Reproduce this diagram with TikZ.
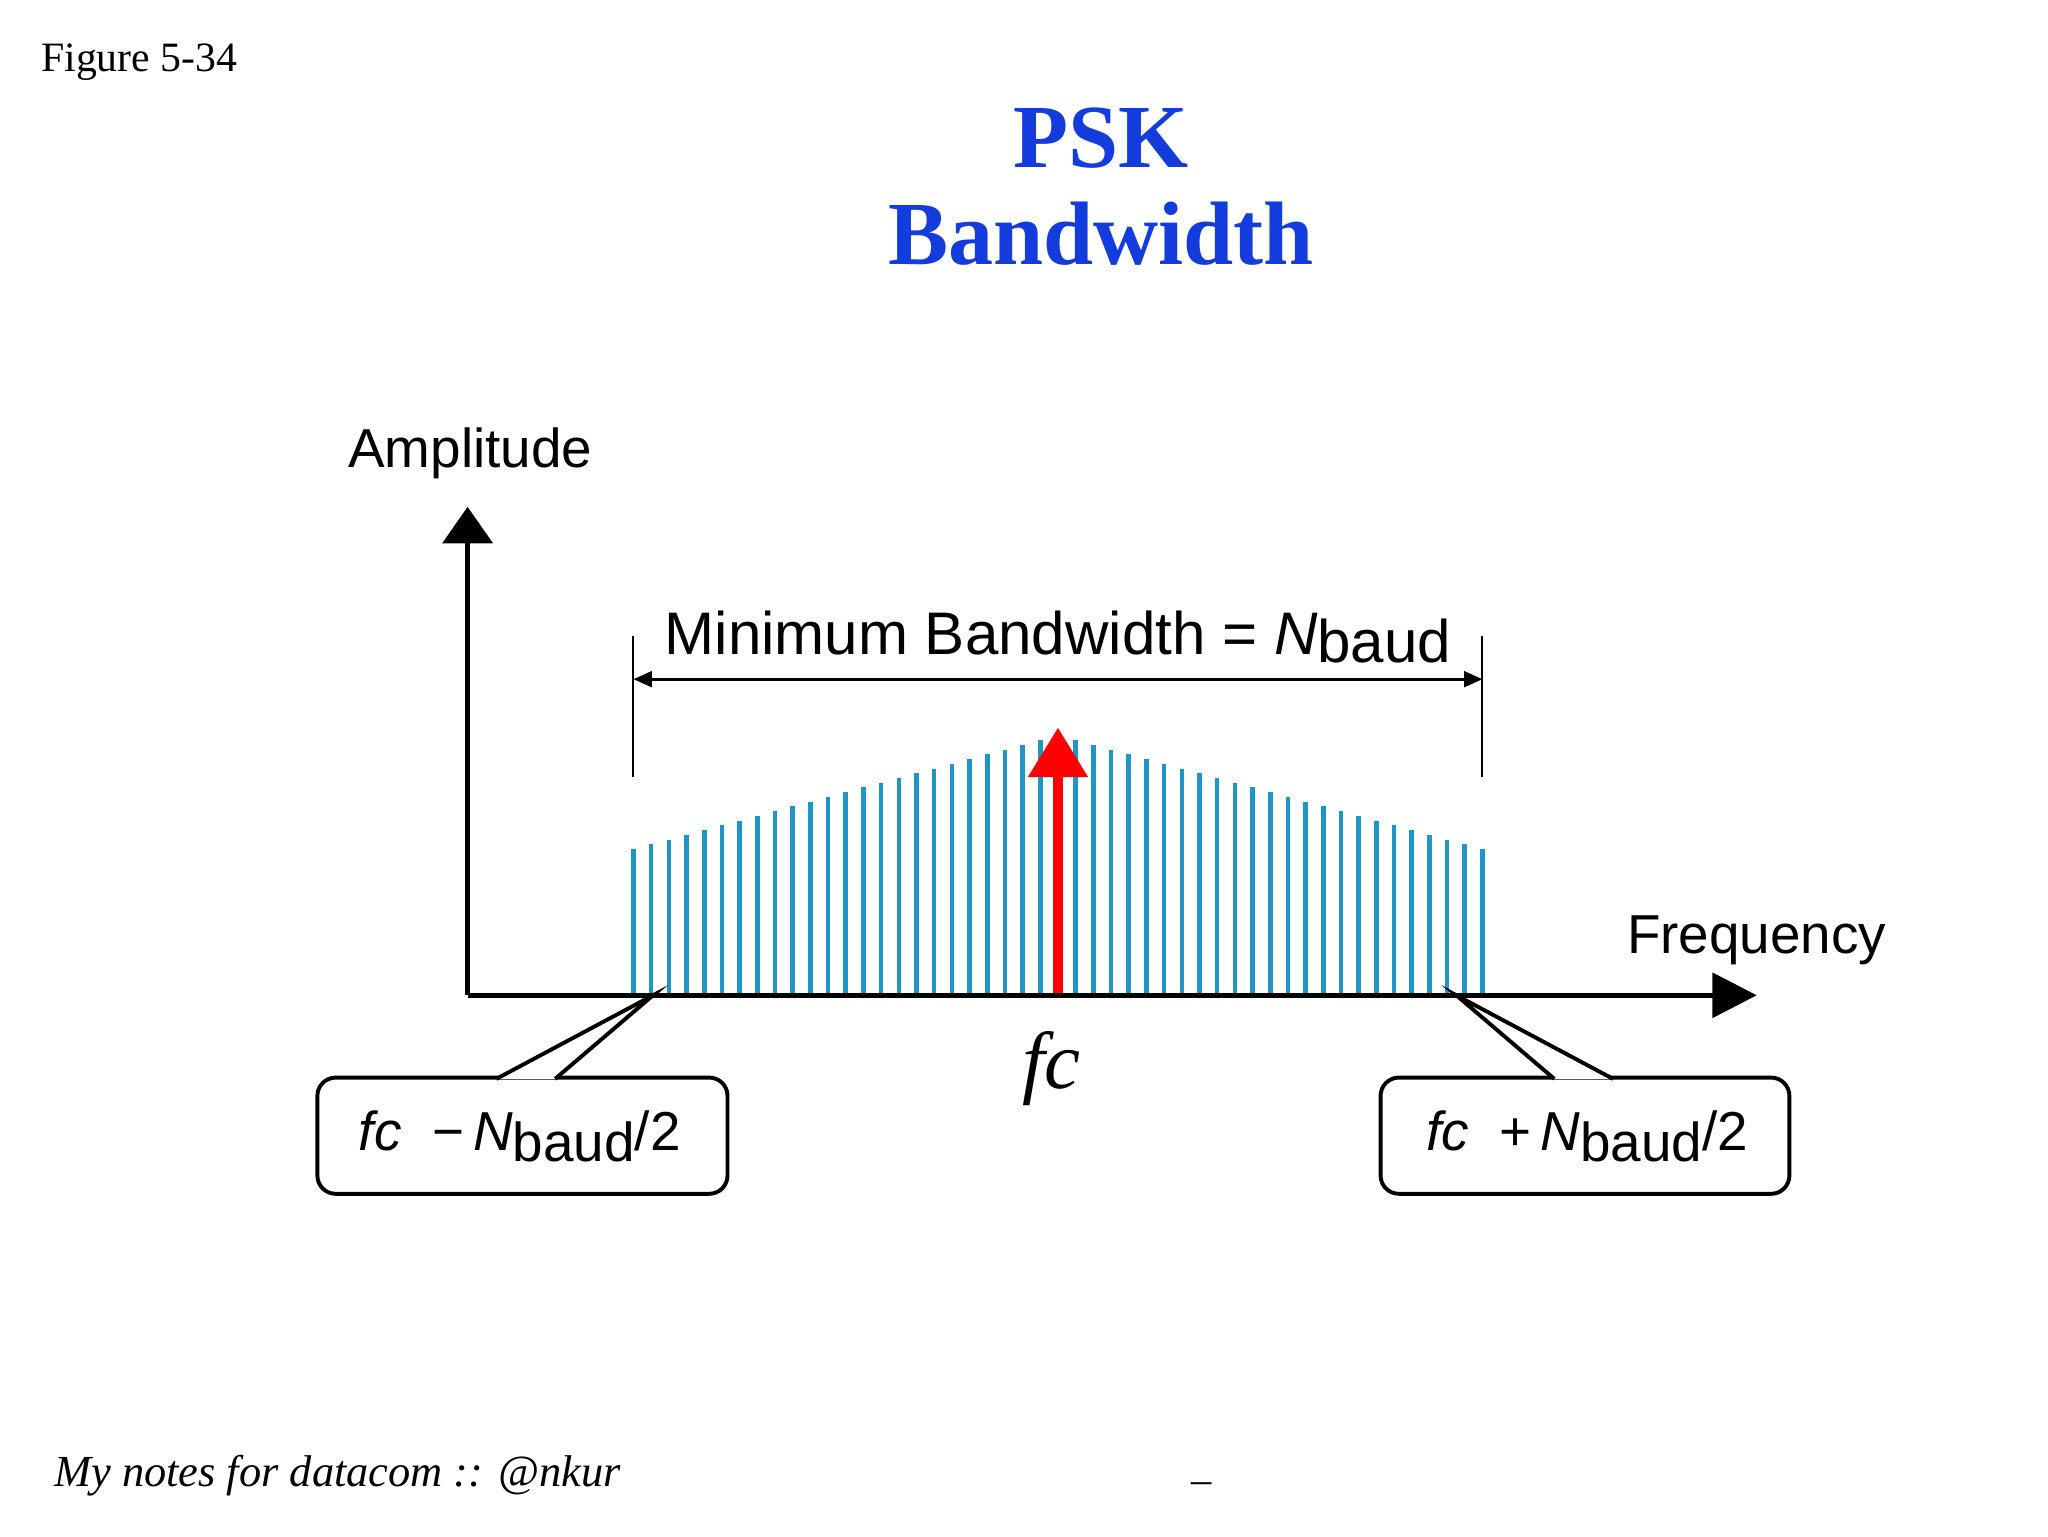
\documentclass[tikz,border=0pt]{standalone}
\usepackage{fontspec}
\setmainfont{Liberation Serif}
\newfontfamily\lsans{Liberation Sans}
\usetikzlibrary{arrows.meta}
\definecolor{ttl}{RGB}{20,60,220}
\definecolor{barc}{RGB}{30,150,200}
\begin{document}
\begin{tikzpicture}[x=1pt,y=-1pt,
  lbl/.style={font=\lsans\fontsize{42}{44}\selectfont,inner sep=0},
  cbox/.style={draw,line width=3pt,rounded corners=14pt}]
\useasboundingbox (0,0) rectangle (1568,1176);
\node[anchor=base west,font=\fontsize{32}{34}\selectfont] (fig) at (28,55) {Figure 5-34};
\node[font=\bfseries\fontsize{69}{80}\selectfont,text=ttl,align=center] (title) at (843,143) {PSK\\[-6pt]Bandwidth};
% bars
\foreach \i in {0,...,48}{
  \pgfmathsetmacro\xx{485+\i*13.5417}
  \pgfmathsetmacro\hh{650-87*(1-abs(\xx-810)/325)}
  \draw[barc,line width=3.5pt] (\xx,762) -- (\xx,\hh);
}
% axes
\coordinate (o) at (358,762);
\coordinate (ytop) at (358,388);
\coordinate (xend) at (1345,762);
\draw[line width=4pt,-{Triangle[length=28pt,width=38pt]}] (o) -- (ytop);
\draw[line width=4pt,-{Triangle[length=34pt,width=34pt]}] (o) -- (xend);
\node[lbl] (amp) at (360,347) {Amplitude};
\node[lbl] (freq) at (1345,720) {Frequency};
% red arrow
\coordinate (rb) at (810,760);
\coordinate (rt) at (810,557);
\draw[red,line width=8pt,-{Triangle[length=38pt,width=44pt]}] (rb) -- (rt);
% dimension
\coordinate (l1) at (485,487); \coordinate (l2) at (485,595);
\coordinate (r1) at (1135,487); \coordinate (r2) at (1135,595);
\draw[line width=1.5pt] (l1) -- (l2) (r1) -- (r2);
\coordinate (da) at (485,520); \coordinate (db) at (1135,520);
\draw[line width=2pt,{Triangle[length=14pt,width=12pt]}-{Triangle[length=14pt,width=12pt]}] (da) -- (db);
\node[lbl,font=\lsans\fontsize{46}{48}\selectfont] (mb) at (810,488) {Minimum Bandwidth = \textit{N}\raisebox{-6pt}{baud}};
\node[font=\itshape\fontsize{62}{62}\selectfont] (fc) at (805,818) {fc};
% boxes
\draw[cbox] (243,825) rectangle (557,914);
\draw[cbox] (1057,825) rectangle (1370,914);
\coordinate (pl) at (500,762); \coordinate (pr) at (1115,762);
\draw[line width=3pt,fill=white] (380,826) -- (pl) -- (425,826);
\draw[line width=3pt,fill=white] (1190,826) -- (pr) -- (1235,826);
\node[lbl] (lt) at (398,870) {\textit{fc}\ \ −\,\textit{N}\raisebox{-8pt}{baud}/2};
\node[lbl] (rt2) at (1215,870) {\textit{fc}\ \ +\,\textit{N}\raisebox{-8pt}{baud}/2};
\node[anchor=base west,font=\itshape\fontsize{34}{36}\selectfont] (foot) at (38,1138) {My notes for datacom :: @nkur};
\node[font=\fontsize{31}{34}\selectfont] (us) at (920,1135) {\_};
\end{tikzpicture}
\end{document}
